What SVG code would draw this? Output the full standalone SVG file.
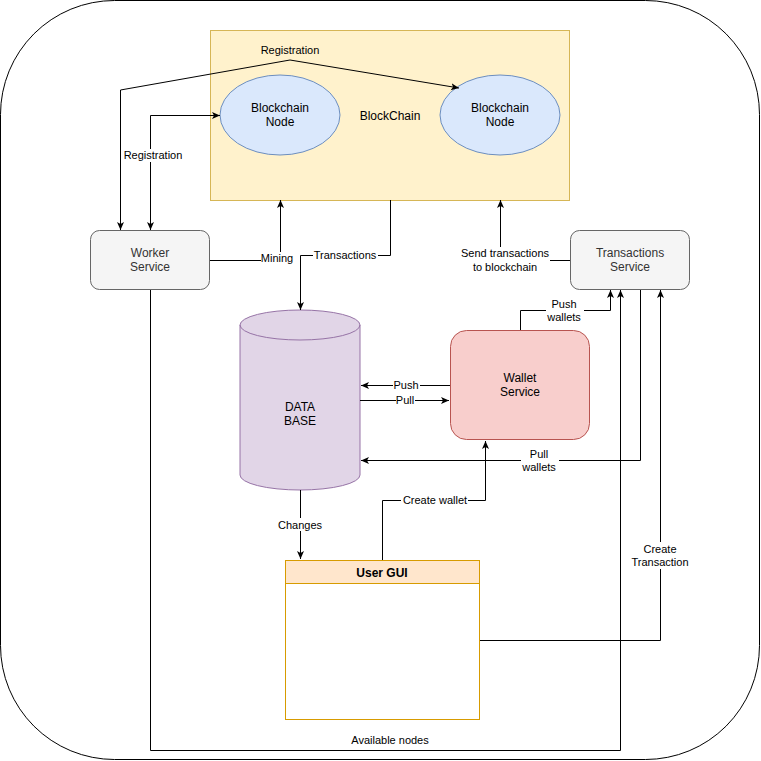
<svg xmlns="http://www.w3.org/2000/svg" width="761" height="761" viewBox="0 0 761 761">
<defs>
<marker id="arr" markerUnits="userSpaceOnUse" markerWidth="10" markerHeight="8" refX="8" refY="3.5" orient="auto-start-reverse">
<path d="M0,0 L8,3.5 L0,7 L2,3.5 Z" fill="#000"/>
</marker>
<style>
text{font-family:"Liberation Sans",Arial,Helvetica,sans-serif;fill:#000;text-anchor:middle}
.n{font-size:12px}
.e{font-size:11px}
.g{fill:#333333}
.edge{fill:none;stroke:#000;stroke-width:1;marker-end:url(#arr)}
.both{marker-start:url(#arr)}
.bg{fill:#fff}
</style>
</defs>
<rect x="0.5" y="0.5" width="759" height="759" rx="114" ry="114" fill="#fff" stroke="#000"/>

<g id="blockchain">
<rect x="210.5" y="30.5" width="359" height="170" fill="#fff2cc" stroke="#d6b656"/>
<text class="n" x="390" y="120">BlockChain</text>
</g>
<g id="node1">
<ellipse cx="280" cy="115" rx="60" ry="40" fill="#dae8fc" stroke="#6c8ebf"/>
<text class="n" x="280" y="112">Blockchain</text>
<text class="n" x="280" y="126">Node</text>
</g>
<g id="node2">
<ellipse cx="500" cy="115" rx="60" ry="40" fill="#dae8fc" stroke="#6c8ebf"/>
<text class="n" x="500" y="112">Blockchain</text>
<text class="n" x="500" y="126">Node</text>
</g>
<g id="worker">
<rect x="90.5" y="230.5" width="119" height="59" rx="9" fill="#f5f5f5" stroke="#666666"/>
<text class="n g" x="150" y="257">Worker</text>
<text class="n g" x="150" y="271">Service</text>
</g>
<g id="transactions">
<rect x="570.5" y="230.5" width="119" height="59" rx="9" fill="#f5f5f5" stroke="#666666"/>
<text class="n g" x="630" y="257">Transactions</text>
<text class="n g" x="630" y="271">Service</text>
</g>
<g id="database">
<path d="M240,325 A60,15 0 0 1 360,325 V475 A60,15 0 0 1 240,475 Z" fill="#e1d5e7" stroke="#9673a6"/>
<path d="M240,325 A60,15 0 0 0 360,325" fill="none" stroke="#9673a6"/>
<text class="n" x="300" y="411">DATA</text>
<text class="n" x="300" y="425">BASE</text>
</g>
<g id="wallet">
<rect x="450.5" y="330.5" width="139" height="109" rx="16" fill="#f8cecc" stroke="#b85450"/>
<text class="n" x="520" y="382">Wallet</text>
<text class="n" x="520" y="396">Service</text>
</g>
<g id="usergui">
<rect x="285.5" y="560.5" width="194" height="159" fill="#fff" stroke="#d79b00"/>
<rect x="285.5" y="560.5" width="194" height="23" fill="#ffe6cc" stroke="#d79b00"/>
<text class="n" x="382" y="577" font-weight="bold">User GUI</text>
</g>

<g id="connectors">
<path class="edge both" d="M120.5,230 V90 L290,60 L459,88"/>
<path class="edge both" d="M150.5,230 V115.5 H220"/>
<path class="edge" d="M210,260.5 H280.5 V200"/>
<path class="edge" d="M390.5,200 V255.5 H300.5 V310"/>
<path class="edge" d="M570,260.5 H500.5 V200"/>
<path class="edge" d="M520.5,330 V310.5 H610.5 V290"/>
<path class="edge" d="M450,385.5 H361"/>
<path class="edge" d="M360,400.5 H449"/>
<path class="edge" d="M640.5,290 V460.5 H361"/>
<path class="edge" d="M382.5,560 V500.5 H485.5 V441"/>
<path class="edge" d="M300.5,490 V559"/>
<path class="edge" d="M480,640.5 H660.5 V290"/>
<path class="edge" d="M150.5,290 V750.5 H620.5 V290"/>

<text class="e" x="290" y="54">Registration</text>

<rect class="bg" x="122" y="149" width="62" height="13"/>
<text class="e" x="153" y="159">Registration</text>

<rect class="bg" x="261" y="252" width="33" height="13"/>
<text class="e" x="277" y="262">Mining</text>

<rect class="bg" x="313" y="249" width="65" height="13"/>
<text class="e" x="345" y="259">Transactions</text>

<rect class="bg" x="460" y="247" width="90" height="26"/>
<text class="e" x="505" y="257">Send transactions</text>
<text class="e" x="505" y="271">to blockchain</text>

<rect class="bg" x="546" y="297" width="38" height="26"/>
<text class="e" x="564" y="308">Push</text>
<text class="e" x="564" y="321">wallets</text>

<rect class="bg" x="393" y="379" width="27" height="13"/>
<text class="e" x="406" y="389">Push</text>

<rect class="bg" x="396" y="394" width="19" height="13"/>
<text class="e" x="405" y="404">Pull</text>

<rect class="bg" x="521" y="447" width="38" height="26"/>
<text class="e" x="539" y="458">Pull</text>
<text class="e" x="539" y="471">wallets</text>

<rect class="bg" x="401" y="494" width="67" height="13"/>
<text class="e" x="435" y="504">Create wallet</text>

<rect class="bg" x="277" y="518" width="46" height="13"/>
<text class="e" x="300" y="529">Changes</text>

<rect class="bg" x="629" y="542" width="62" height="27"/>
<text class="e" x="660" y="553">Create</text>
<text class="e" x="660" y="566">Transaction</text>

<text class="e" x="390" y="744">Available nodes</text>
</g>
</svg>
